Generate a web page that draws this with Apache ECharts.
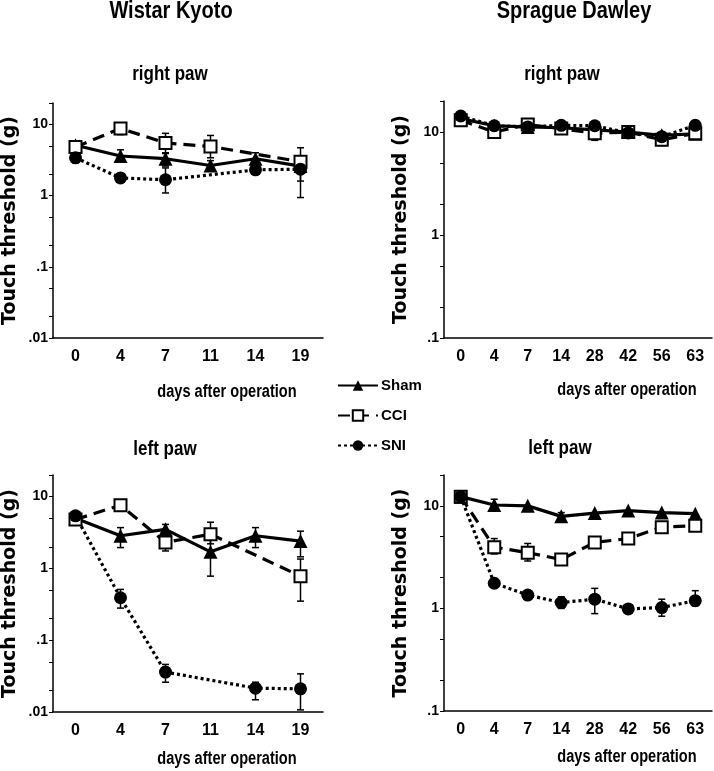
<!DOCTYPE html>
<html><head><meta charset="utf-8">
<script src="https://cdn.jsdelivr.net/npm/echarts@6/dist/echarts.min.js"></script>
<style>html,body{margin:0;padding:0;background:#fff}#c{width:714px;height:771px}</style>
</head><body><div id="c"></div><script>
// ---- categories ----
const wkyDays = ['0','4','7','11','14','19'];
const sdDays = ['0','4','7','14','28','42','56','63'];
// ---- axis ticks ----
const wkyTickVals = [0.01,0.02,0.05,0.1,0.2,0.5,1,2,5,10,20];
const wkyLabelVals = [0.01,0.1,1,10];
const sdTickVals = [0.1,0.2,0.5,1,2,5,10,20];
const sdLabelVals = [0.1,1,10];
const wkyRange = [0.01, 20];
const sdRange = [0.1, 20];
// ---- Wistar Kyoto, right paw ----
const wkyRightSham   = [5.1, 3.6, 3.3, 2.65, 3.3, 2.6];
const wkyRightShamLo = [null, 2.95, 2.6, 2.2, 2.7, 1.6];
const wkyRightShamHi = [null, 4.4, 3.9, 3.1, 4.0, 3.5];
const wkyRightCci    = [4.8, 8.8, 5.5, 4.9, null, 3.0];
const wkyRightCciLo  = [null, 7.2, 4.0, 3.4, null, 2.2];
const wkyRightCciHi  = [null, 10.5, 7.5, 7.0, null, 4.7];
const wkyRightSni    = [3.4, 1.77, 1.67, null, 2.3, 2.35];
const wkyRightSniLo  = [2.9, 1.55, 1.09, null, 2.0, 0.94];
const wkyRightSniHi  = [3.9, 2.0, 2.45, null, 2.6, 3.3];
// ---- Wistar Kyoto, left paw ----
const wkyLeftSham   = [5.0, 2.85, 3.5, 1.7, 2.85, 2.4];
const wkyLeftShamLo = [null, 1.95, 3.0, 0.78, 1.95, 1.45];
const wkyLeftShamHi = [null, 3.7, 4.1, 2.5, 3.7, 3.3];
const wkyLeftCci    = [4.8, 7.6, 2.3, 3.0, null, 0.78];
const wkyLeftCciLo  = [null, null, 1.75, 2.2, null, 0.35];
const wkyLeftCciHi  = [null, null, 2.7, 4.4, null, 1.35];
const wkyLeftSni    = [5.4, 0.39, 0.036, null, 0.0215, 0.021];
const wkyLeftSniLo  = [null, 0.28, 0.026, null, 0.0148, 0.0107];
const wkyLeftSniHi  = [null, 0.51, 0.046, null, 0.026, 0.034];
// ---- Sprague Dawley, right paw ----
const sdRightSham   = [13.5, 11.5, 11.2, 11.0, 10.5, 10.0, 9.3, 9.6];
const sdRightShamLo = [null, null, null, null, null, null, null, null];
const sdRightShamHi = [null, null, null, null, null, null, null, null];
const sdRightCci    = [13.0, 10.0, 11.8, 10.8, 9.7, 10.0, 8.4, 9.7];
const sdRightCciLo  = [null, 9.2, null, null, 8.3, null, 7.4, null];
const sdRightCciHi  = [null, 11.0, null, null, 11.0, null, 9.4, null];
const sdRightSni    = [14.3, 11.5, 11.2, 11.6, 11.5, 9.8, 9.0, 11.6];
const sdRightSniLo  = [null, null, null, null, null, null, null, null];
const sdRightSniHi  = [null, null, null, null, null, null, null, null];
// ---- Sprague Dawley, left paw ----
const sdLeftSham   = [12.3, 10.2, 10.0, 7.9, 8.5, 9.0, 8.6, 8.4];
const sdLeftShamLo = [null, 9.0, null, 7.3, null, null, null, null];
const sdLeftShamHi = [null, 11.6, null, 8.6, null, null, null, null];
const sdLeftCci    = [12.3, 3.96, 3.5, 3.0, 4.4, 4.8, 6.2, 6.4];
const sdLeftCciLo  = [null, 3.4, 2.9, 2.7, 4.0, 4.3, 5.8, 5.8];
const sdLeftCciHi  = [null, 4.8, 4.3, 3.3, 4.8, 5.3, 6.6, 7.0];
const sdLeftSni    = [12.3, 1.76, 1.35, 1.14, 1.23, 0.99, 1.02, 1.19];
const sdLeftSniLo  = [null, 1.6, 1.25, 1.0, 0.89, 0.93, 0.84, 1.06];
const sdLeftSniHi  = [null, 1.95, 1.45, 1.3, 1.57, 1.06, 1.23, 1.49];

const NARROW = '"Liberation Sans Narrow","Arial Narrow","Liberation Sans",sans-serif';
const WIDE = '"DejaVu Sans",sans-serif';

const panels = [
  {days: wkyDays, range: wkyRange, ticks: wkyTickVals, labels: wkyLabelVals,
   grid: {left: 52, top: 103, width: 271, height: 235},
   sham: [wkyRightSham, wkyRightShamLo, wkyRightShamHi], cci: [wkyRightCci, wkyRightCciLo, wkyRightCciHi], sni: [wkyRightSni, wkyRightSniLo, wkyRightSniHi]},
  {days: sdDays, range: sdRange, ticks: sdTickVals, labels: sdLabelVals,
   grid: {left: 444, top: 101, width: 268, height: 237},
   sham: [sdRightSham, sdRightShamLo, sdRightShamHi], cci: [sdRightCci, sdRightCciLo, sdRightCciHi], sni: [sdRightSni, sdRightSniLo, sdRightSniHi]},
  {days: wkyDays, range: wkyRange, ticks: wkyTickVals, labels: wkyLabelVals,
   grid: {left: 52, top: 475, width: 271, height: 237},
   sham: [wkyLeftSham, wkyLeftShamLo, wkyLeftShamHi], cci: [wkyLeftCci, wkyLeftCciLo, wkyLeftCciHi], sni: [wkyLeftSni, wkyLeftSniLo, wkyLeftSniHi]},
  {days: sdDays, range: sdRange, ticks: sdTickVals, labels: sdLabelVals,
   grid: {left: 444, top: 475, width: 268, height: 236},
   sham: [sdLeftSham, sdLeftShamLo, sdLeftShamHi], cci: [sdLeftCci, sdLeftCciLo, sdLeftCciHi], sni: [sdLeftSni, sdLeftSniLo, sdLeftSniHi]}
];

function fmt(v) { return v < 1 ? String(+v).replace(/^0/, '') : String(+v); }

function errSeries(idx, lo, hi) {
  const data = [];
  lo.forEach((l, i) => { if (l != null && hi[i] != null) data.push([i, l, hi[i]]); });
  return {
    type: 'custom', xAxisIndex: idx, yAxisIndex: idx, data, z: 2, silent: true, animation: false,
    encode: {x: 0, y: [1, 2]},
    renderItem(params, api) {
      const x = api.value(0);
      const p1 = api.coord([x, api.value(1)]);
      const p2 = api.coord([x, api.value(2)]);
      const w = 3.5;
      const st = {stroke: '#000', lineWidth: 1.5};
      return {type: 'group', children: [
        {type: 'line', shape: {x1: p1[0], y1: p1[1], x2: p2[0], y2: p2[1]}, style: st},
        {type: 'line', shape: {x1: p1[0] - w, y1: p1[1], x2: p1[0] + w, y2: p1[1]}, style: st},
        {type: 'line', shape: {x1: p2[0] - w, y1: p2[1], x2: p2[0] + w, y2: p2[1]}, style: st}
      ]};
    }
  };
}

const grids = [], xAxes = [], yAxes = [], series = [];
panels.forEach((p, i) => {
  grids.push(Object.assign({containLabel: false}, p.grid));
  xAxes.push({
    type: 'category', gridIndex: i, data: p.days, boundaryGap: true,
    axisLine: {lineStyle: {color: '#000', width: 1.5}},
    axisTick: {alignWithLabel: true, length: 4, lineStyle: {color: '#000', width: 1}},
    axisLabel: {color: '#000', fontFamily: NARROW, fontWeight: 'bold', fontSize: 16, margin: 11, interval: 0},
    splitLine: {show: false}
  });
  yAxes.push({
    type: 'log', logBase: 10, gridIndex: i, min: p.range[0], max: p.range[1],
    axisLine: {show: true, lineStyle: {color: '#000', width: 1.5}},
    axisTick: {show: true, length: 4, customValues: p.ticks, lineStyle: {color: '#000', width: 1}},
    axisLabel: {customValues: p.labels, formatter: fmt, color: '#000', fontFamily: NARROW, fontWeight: 'bold', fontSize: 14, margin: 5},
    splitLine: {show: false},
    name: 'Touch threshold (g)', nameLocation: 'middle', nameGap: 33,
    nameTextStyle: {color: '#000', fontFamily: WIDE, fontWeight: 'bold', fontSize: 19}
  });
  const groups = [
    {name: 'Sham', d: p.sham, symbol: 'triangle', size: 14, line: 'solid', item: {color: '#000'}},
    {name: 'CCI', d: p.cci, symbol: 'rect', size: 12, line: [12, 7], item: {color: '#fff', borderColor: '#000', borderWidth: 2}},
    {name: 'SNI', d: p.sni, symbol: 'circle', size: 13, line: [3, 3], item: {color: '#000'}}
  ];
  groups.forEach(g => series.push(errSeries(i, g.d[1], g.d[2])));
  groups.forEach(g => series.push({
    type: 'line', name: g.name, xAxisIndex: i, yAxisIndex: i, data: g.d[0], connectNulls: true,
    symbol: g.symbol, symbolSize: g.size, showAllSymbol: true, animation: false, z: 3,
    lineStyle: {color: '#000', width: 3.2, type: g.line},
    itemStyle: g.item
  }));
});

function txt(s, x, y, size, sx) {
  return {type: 'text', x, y, scaleX: sx, style: {text: s, fill: '#000', textAlign: 'center', textVerticalAlign: 'middle',
    font: 'bold ' + size + 'px ' + NARROW}};
}

const option = {
  backgroundColor: '#fff',
  animation: false,
  grid: grids, xAxis: xAxes, yAxis: yAxes, series,
  legend: {
    data: ['Sham', 'CCI', 'SNI'], orient: 'vertical', left: 332, top: 373,
    itemWidth: 40, itemHeight: 13, itemGap: 15, selectedMode: false,
    textStyle: {color: '#000', fontFamily: NARROW, fontWeight: 'bold', fontSize: 15, padding: [0, 0, 0, -2]}
  },
  graphic: [
    txt('Wistar Kyoto', 171, 12, 23, 0.87),
    txt('Sprague Dawley', 574, 12, 23, 0.87),
    txt('right paw', 170, 74, 20, 0.85),
    txt('right paw', 562, 74, 20, 0.85),
    txt('left paw', 165, 449, 20, 0.85),
    txt('left paw', 560, 448, 20, 0.85),
    txt('days after operation', 227, 392, 18, 0.81),
    txt('days after operation', 627, 390, 18, 0.81),
    txt('days after operation', 227, 759, 18, 0.81),
    txt('days after operation', 627, 757, 18, 0.81)
  ]
};
const chart = echarts.init(document.getElementById('c'));
chart.setOption(option);
</script></body></html>
